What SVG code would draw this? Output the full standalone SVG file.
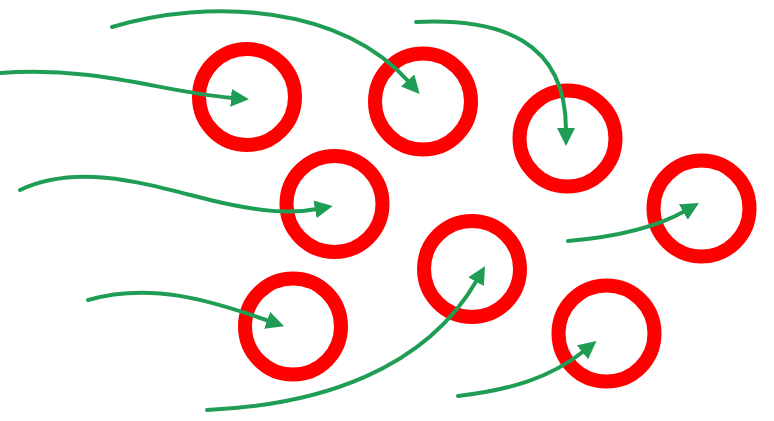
<svg xmlns="http://www.w3.org/2000/svg" width="774" height="421" viewBox="0 0 774 421">
<style>
.ring{fill:none;stroke:#ff0000;stroke-width:14}
.flow{fill:none;stroke:#1f9d55;stroke-width:4;stroke-linecap:round}
</style>
<defs>
<marker id="ah" viewBox="0 0 18 18" markerWidth="18" markerHeight="18" markerUnits="userSpaceOnUse" refX="2" refY="9" orient="auto">
<path d="M0,0 L18,9 L0,18 z" fill="#1f9d55"/>
</marker>
</defs>
<rect width="774" height="421" fill="#ffffff"/>
<g id="c1"><circle class="ring" cx="247" cy="97" r="48"/></g>
<g id="c2"><circle class="ring" cx="423" cy="101.5" r="48"/></g>
<g id="c3"><circle class="ring" cx="567.5" cy="138.5" r="48"/></g>
<g id="c4"><circle class="ring" cx="334.5" cy="204" r="48"/></g>
<g id="c5"><circle class="ring" cx="701.5" cy="208.5" r="48"/></g>
<g id="c6"><circle class="ring" cx="472" cy="269" r="48"/></g>
<g id="c7"><circle class="ring" cx="293" cy="326.5" r="48"/></g>
<g id="c8"><circle class="ring" cx="606.5" cy="333.5" r="48"/></g>
<g id="connectors">
<path class="flow" marker-end="url(#ah)" d="M0,73 C100,66 160,92 233,98"/>
<path class="flow" marker-end="url(#ah)" d="M112,27 C210,-2 340,5 409,82"/>
<path class="flow" marker-end="url(#ah)" d="M416,22 C500,18 566,40 566,130"/>
<path class="flow" marker-end="url(#ah)" d="M20,190 C80,162 150,185 210,200 C260,212 290,214 317,209"/>
<path class="flow" marker-end="url(#ah)" d="M568,241 C615,237 655,228 685,211"/>
<path class="flow" marker-end="url(#ah)" d="M207,410 C320,405 425,370 477,280"/>
<path class="flow" marker-end="url(#ah)" d="M88,300 C150,282 210,300 269,321"/>
<path class="flow" marker-end="url(#ah)" d="M458,396 C510,390 550,378 584,351"/>
</g>
</svg>
